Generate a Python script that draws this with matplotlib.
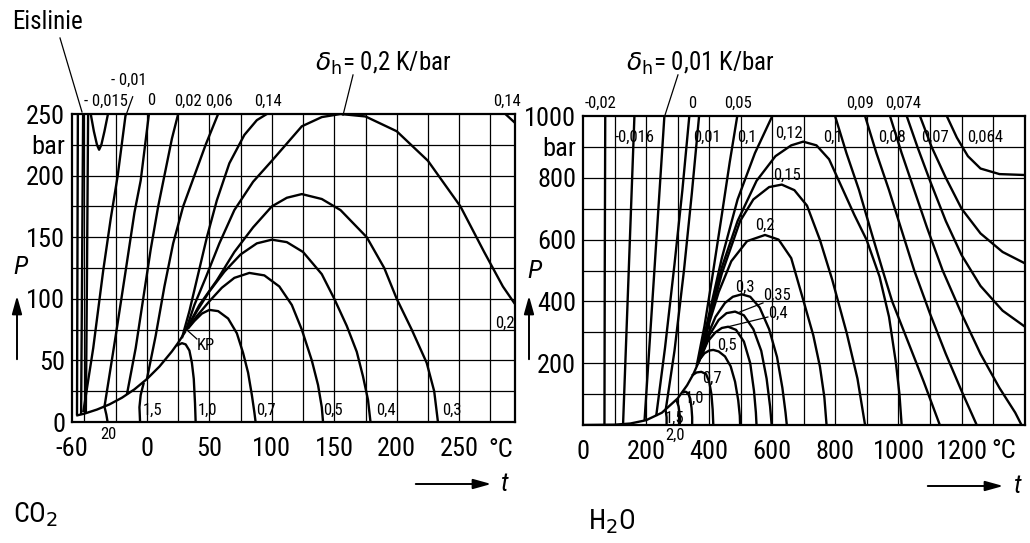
import matplotlib
matplotlib.use("Agg")
import matplotlib.pyplot as plt
from matplotlib import font_manager as fm

# ---------------- fonts ----------------
_names = {f.name for f in fm.fontManager.ttflist}
NARROW = next((n for n in ["Liberation Sans Narrow", "Roboto Condensed", "Open Sans Condensed",
                           "Liberation Sans", "DejaVu Sans"] if n in _names), "DejaVu Sans")
plt.rcParams['font.family'] = [NARROW, 'DejaVu Sans']
plt.rcParams['mathtext.fontset'] = 'dejavusans'

# ---------------- data: CO2 (t in degC, p in bar) ----------------
co2_sat = [(-56.6, 5.2), (-50, 6.8), (-40, 10.1), (-30, 14.3), (-20, 19.7), (-10, 26.5),
           (0, 34.9), (10, 45.0), (20, 57.3), (25, 64.3), (31, 73.8)]
co2_eis = [(-52.7, 6.2), (-51.1, 250)]
co2_liq_a = [(-56.0, 5.3), (-55.3, 250)]
co2_liq_b = [(-48.9, 7.5), (-48.0, 120), (-47.1, 250)]
co2_m0015 = [(-45, 250), (-42.5, 236), (-40, 225), (-38.3, 221), (-36.5, 225), (-34, 236), (-31.2, 250)]
co2_m001 = [(-51, 8), (-43, 60), (-35, 123), (-29, 165), (-23.4, 200), (-17, 250)]
co2_0 = [(-34, 12.4), (-25, 70), (-17, 123), (-10, 170), (-5, 196), (1.6, 250)]
co2_002 = [(-16, 22.5), (-9, 60), (-3, 100), (3, 140), (9, 175), (15, 205), (20, 230), (25, 250)]
co2_006 = [(0, 35), (7, 70), (14, 110), (21, 145), (29, 175), (38, 200), (47, 225), (57, 250)]
co2_014 = [(28, 68), (34, 90), (41, 120), (48, 150), (56, 180), (66, 210), (78, 233), (88, 245), (96, 250)]
co2_014b = [(287, 250), (294.5, 243)]
co2_02 = [(31, 74), (38, 95), (47, 117), (58, 145), (70, 172), (85, 195), (100, 212), (124, 240),
          (140, 247.5), (155, 250), (175, 248), (200, 236), (225, 212), (251, 175), (270, 138),
          (285, 110), (294.5, 96)]
co2_03 = [(32, 76), (42, 95), (56, 115), (70, 138), (85, 158), (100, 175), (112, 182), (124, 185),
          (140, 181), (155, 172), (176, 150), (190, 125), (200, 100), (212, 75), (224, 48), (230, 25), (233, 0)]
co2_04 = [(32, 76), (40, 90), (50, 106), (62, 122), (75, 136), (88, 145), (100, 148), (112, 146),
          (125, 138), (140, 120), (150, 100), (160, 78), (168, 57), (173, 37), (177, 18), (179, 0)]
co2_05 = [(32, 75), (40, 86), (50, 98), (60, 109), (70, 117), (82, 121), (94, 119), (106, 110),
          (116, 95), (124, 75), (132, 50), (137, 30), (140, 12), (141, 0)]
co2_07 = [(33, 76), (38, 82), (44, 88), (50, 91), (57, 90), (65, 84), (72, 72), (77, 56), (81, 40),
          (84, 22), (86, 8), (87, 0)]
co2_10 = [(24, 62), (28, 64), (31, 63), (34, 58), (36, 48), (37.5, 35), (38.5, 15), (39, 0)]
co2_15 = [(-2.5, 32), (-5, 22), (-6, 12), (-5.5, 0)]
co2_20 = [(-34, 12.5), (-32.5, 6), (-31.5, 0)]

# ---------------- data: H2O ----------------
h2o_sat = [(0, 0.0), (100, 1.0), (150, 4.8), (200, 15.5), (250, 39.7), (300, 85.9), (330, 128.6),
           (350, 165.2), (374, 220.6)]
h2o_m002 = [(68, 0.3), (69, 500), (70.5, 1000)]
h2o_m0016 = [(127, 2.5), (145, 500), (163, 1000)]
h2o_001a = [(195, 14), (225, 480), (258, 1000)]
h2o_0 = [(232, 29), (260, 250), (290, 520), (315, 760), (337, 1000)]
h2o_001 = [(262, 48), (290, 240), (320, 500), (345, 750), (368, 1000)]
h2o_005 = [(360, 190), (385, 320), (410, 480), (440, 680), (465, 850), (489, 1000)]
h2o_01 = [(365, 200), (400, 360), (440, 540), (490, 730), (545, 880), (600, 1000)]
h2o_012 = [(368, 205), (400, 350), (440, 510), (490, 660), (550, 790), (610, 870), (660, 905),
           (698, 917), (740, 905), (780, 860), (820, 770), (860, 680), (899, 599), (940, 480),
           (970, 350), (992, 200), (1003, 100), (1010, 0)]
h2o_015 = [(370, 210), (400, 340), (440, 490), (498, 660), (540, 730), (590, 770), (630, 778),
           (670, 760), (710, 710), (751, 599), (790, 470), (836, 297), (870, 150), (894, 0)]
h2o_02 = [(372, 215), (400, 330), (430, 430), (470, 530), (520, 595), (577, 615), (620, 600),
          (660, 540), (698, 405), (730, 290), (751, 189), (765, 90), (772, 0)]
h2o_03 = [(374, 220), (395, 290), (420, 350), (450, 395), (475, 415), (503, 423), (530, 415),
          (560, 380), (590, 310), (615, 220), (632, 120), (642, 40), (646, 0)]
h2o_035 = [(374, 220), (400, 290), (430, 340), (455, 362), (482, 367), (510, 355), (540, 310),
           (565, 240), (582, 150), (593, 60), (598, 0)]
h2o_04 = [(374, 220), (395, 270), (420, 300), (440, 314), (460, 318), (485, 308), (510, 270),
          (530, 200), (542, 110), (548, 40), (550, 0)]
h2o_05 = [(372, 215), (385, 232), (400, 241), (413, 243), (430, 238), (450, 222), (468, 190),
          (482, 140), (492, 80), (497, 30), (498, 0)]
h2o_07 = [(345, 160), (360, 170), (375, 172), (390, 165), (400, 140), (407, 100), (411, 50), (413, 0)]
h2o_10 = [(316, 105), (325, 108), (333, 103), (340, 85), (344, 55), (346, 25), (346, 0)]
h2o_15 = [(296, 82), (303, 60), (307, 30), (307, 0)]
h2o_20 = [(262, 48), (265, 25), (265, 0)]
h2o_01r = [(799, 1000), (835, 880), (875, 760), (915, 620), (950, 500), (980, 400), (1030, 270),
           (1080, 140), (1131, 0)]
h2o_009 = [(894, 1000), (930, 880), (970, 760), (1010, 630), (1050, 500), (1100, 360), (1150, 230),
           (1200, 110), (1248, 0)]
h2o_008 = [(973, 1000), (1010, 880), (1050, 760), (1090, 640), (1140, 500), (1200, 360), (1260, 230),
           (1320, 120), (1370, 40), (1390, 0)]
h2o_0074 = [(1026, 1000), (1060, 900), (1100, 790), (1150, 660), (1200, 550), (1260, 450),
            (1330, 370), (1401, 318)]
h2o_007 = [(1068, 1000), (1105, 900), (1150, 800), (1200, 700), (1260, 620), (1330, 560), (1401, 523)]
h2o_0064 = [(1153, 1000), (1185, 930), (1220, 870), (1260, 830), (1320, 812), (1401, 809)]

# tick labels
co2_xticks = [-60, 0, 50, 100, 150, 200, 250]
co2_yticks = [0, 50, 100, 150, 200, 225, 250]
co2_ylabels = ['0', '50', '100', '150', '200', 'bar', '250']
h2o_xticks = [0, 200, 400, 600, 800, 1000, 1200]
h2o_yticks = [200, 400, 600, 800, 900, 1000]
h2o_ylabels = ['200', '400', '600', '800', 'bar', '1000']

co2_curves = [co2_sat, co2_eis, co2_liq_a, co2_liq_b, co2_m0015, co2_m001, co2_0, co2_002, co2_006,
              co2_014, co2_014b, co2_02, co2_03, co2_04, co2_05, co2_07, co2_10, co2_15, co2_20]
h2o_curves = [h2o_sat, h2o_m002, h2o_m0016, h2o_001a, h2o_0, h2o_001, h2o_005, h2o_01, h2o_012,
              h2o_015, h2o_02, h2o_03, h2o_035, h2o_04, h2o_05, h2o_07, h2o_10, h2o_15, h2o_20,
              h2o_01r, h2o_009, h2o_008, h2o_0074, h2o_007, h2o_0064]

W, H = 1030, 543
fig = plt.figure(figsize=(W / 100, H / 100), dpi=100)
fig.patch.set_facecolor('white')

def px_axes(x0, y0, x1, y1):
    return fig.add_axes([x0 / W, 1 - y1 / H, (x1 - x0) / W, (y1 - y0) / H])

axL = px_axes(72, 114, 515, 422)
axR = px_axes(583, 116, 1025, 425)

LW = 1.7
GRID = 0.9
TICK_FS = 19

def setup(ax, xlim, ylim, xgrid, ygrid, xt, yt, ylab):
    ax.set_xlim(*xlim)
    ax.set_ylim(*ylim)
    for g in xgrid:
        ax.axvline(g, color='black', lw=GRID, zorder=1)
    for g in ygrid:
        ax.axhline(g, color='black', lw=GRID, zorder=1)
    ax.set_xticks(xt)
    ax.set_xticklabels([str(v) for v in xt])
    ax.set_yticks(yt)
    ax.set_yticklabels(ylab)
    ax.tick_params(length=0, labelsize=TICK_FS, pad=5)
    ax.tick_params(axis='x', pad=11)
    for s in ax.spines.values():
        s.set_linewidth(1.6)
        s.set_zorder(5)

setup(axL, (-60, 294.7), (0, 250), list(range(-50, 291, 25)), list(range(25, 250, 25)),
      co2_xticks, co2_yticks, co2_ylabels)
setup(axR, (0, 1401), (0, 1000), list(range(100, 1400, 100)), list(range(100, 1000, 100)),
      h2o_xticks, h2o_yticks, h2o_ylabels)
axL.set_xticklabels(['-60'] + [str(v) for v in co2_xticks[1:]])

for c in co2_curves:
    axL.plot([q[0] for q in c], [q[1] for q in c], color='black', lw=LW, zorder=3,
             solid_joinstyle='round', solid_capstyle='butt')
for c in h2o_curves:
    axR.plot([q[0] for q in c], [q[1] for q in c], color='black', lw=LW, zorder=3,
             solid_joinstyle='round', solid_capstyle='butt')

SFS = 12
def lab(ax, t, p, s, fs=SFS, **kw):
    ax.text(t, p, s, fontsize=fs, ha='center', va='center', clip_on=False, zorder=6, **kw)

def ptr(ax, a, b):
    ax.plot([a[0], b[0]], [a[1], b[1]], color='black', lw=0.9, clip_on=False, zorder=6)

# CO2 labels
lab(axL, -32.7, 260.6, '- 0,015')
lab(axL, -14.5, 277.5, '- 0,01')
ptr(axL, (-11.4, 264), (-16.8, 249))
lab(axL, 3.2, 260.6, '0')
lab(axL, 32.7, 260.6, '0,02')
lab(axL, 57.5, 260.6, '0,06')
lab(axL, 96.6, 260.6, '0,14')
lab(axL, 288.3, 260.6, '0,14')
lab(axL, 189, 291.4, r'$\delta_{\rm h}$= 0,2 K/bar', fs=18)
ptr(axL, (165, 281.7), (157, 249))
for t, s in [(4.8, '1,5'), (48.7, '1,0'), (95, '0,7'), (148.6, '0,5'), (191, '0,4'), (244.4, '0,3')]:
    lab(axL, t, 9.7, s)
lab(axL, -31, -10.5, '20')
lab(axL, 286.7, 80.4, '0,2')
lab(axL, 47, 62.5, 'KP')
ptr(axL, (40, 67.4), (32, 74.7))
axL.text(283, -23, '°C', fontsize=TICK_FS, ha='center', va='center', clip_on=False)

# H2O labels
lab(axR, 54, 1042, '-0,02')
lab(axR, 345.5, 1042, '0')
lab(axR, 491, 1042, '0,05')
lab(axR, 878, 1042, '0,09')
lab(axR, 1014, 1042, '0,074')
for t, s in [(165, '-0,016'), (393, '0,01'), (520, '0,1'), (792, '0,1'), (979, '0,08'),
             (1116, '0,07'), (1274, '0,064')]:
    lab(axR, t, 932, s)
lab(axR, 653, 945, '0,12')
lab(axR, 646.6, 809, '0,15')
lab(axR, 577, 647, '0,2')
lab(axR, 513.5, 446.6, '0,3')
lab(axR, 615, 420.7, '0,35')
lab(axR, 618, 362.5, '0,4')
ptr(axR, (570.5, 395), (497.6, 366))
ptr(axR, (586, 349.5), (456, 317))
lab(axR, 456, 259, '0,5')
lab(axR, 409, 152, '0,7')
lab(axR, 355, 87.4, '1,0')
lab(axR, 291.6, 22.7, '1,5')
lab(axR, 291.6, -32.4, '2,0')
lab(axR, 371, 1171, r'$\delta_{\rm h}$= 0,01 K/bar', fs=18)
ptr(axR, (301, 1133), (260, 1003))
axR.text(1335, -85, '°C', fontsize=TICK_FS, ha='center', va='center', clip_on=False)

# figure-level texts and arrows
def ftext(x, y, s, fs, **kw):
    fig.text(x / W, 1 - y / H, s, fontsize=fs, ha='center', va='center', **kw)

def farrow(x0, y0, x1, y1):
    fig.add_artist(matplotlib.patches.FancyArrowPatch(
        (x0 / W, 1 - y0 / H), (x1 / W, 1 - y1 / H), transform=fig.transFigure,
        arrowstyle='-|>,head_length=0.9,head_width=0.25', mutation_scale=12, lw=1.4, color='black'))

ftext(48, 22, 'Eislinie', 18)
fig.add_artist(matplotlib.lines.Line2D([60 / W, 82 / W], [1 - 38 / H, 1 - 112 / H], color='black', lw=0.9))
ftext(20, 267, 'P', 19, style='italic')
farrow(17, 362, 17, 293)
ftext(534, 271, 'P', 19, style='italic')
farrow(529, 362, 529, 293)
farrow(413, 484, 494, 484)
ftext(505, 484, 't', 19, style='italic')
farrow(925, 486, 1006, 486)
ftext(1018, 486, 't', 19, style='italic')
ftext(36, 515, r'CO$_2$', 20)
ftext(612, 522, r'H$_2$O', 20)

fig.savefig('out.png', dpi=100, facecolor='white')
